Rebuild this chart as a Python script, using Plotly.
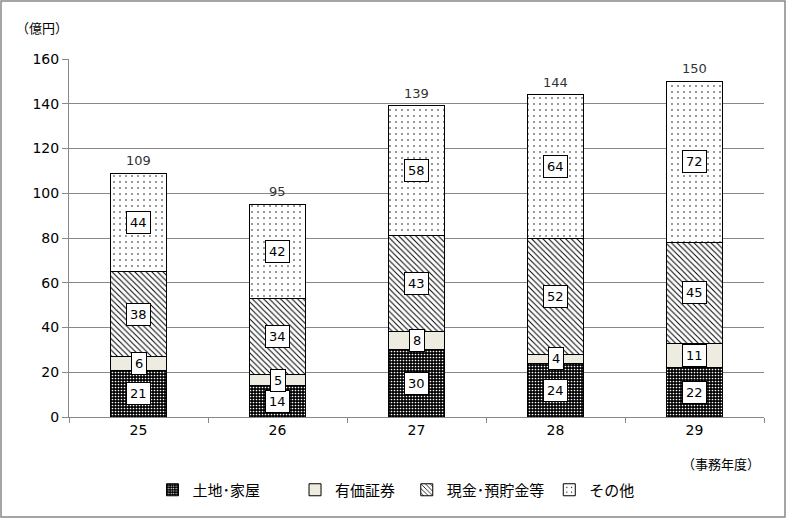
import plotly.graph_objects as go

years = ["25", "26", "27", "28", "29"]
land = [21, 14, 30, 24, 22]
securities = [6, 5, 8, 4, 11]
cash = [38, 34, 43, 52, 45]
other = [44, 42, 58, 64, 72]
totals = [109, 95, 139, 144, 150]
names = ["土地･家屋", "有価証券", "現金･預貯金等", "その他"]
name_pad = ["\u3000\u3000", "\u00a0\u00a0", "", ""]

W, H = 790, 523
L, R, T, B = 69, 26, 59, 106
PW, PH = W - L - R, H - T - B

JP = "Noto Sans CJK JP"
NUM = "DejaVu Sans"

fig = go.Figure()
styles = [
    dict(color="black", pattern=dict(shape=".", bgcolor="black", fgcolor="white", size=3, solidity=0.25, fillmode="replace")),
    dict(color="#EEECE1"),
    dict(color="white", pattern=dict(shape="\\", bgcolor="white", fgcolor="black", size=4, solidity=0.25, fillmode="replace")),
    dict(color="white", pattern=dict(shape=".", bgcolor="white", fgcolor="black", size=6, solidity=0.05, fillmode="replace")),
]
series = [land, securities, cash, other]
for nm, pad, vals, st in zip(names, name_pad, series, styles):
    m = dict(st)
    m["line"] = dict(color="black", width=1)
    fig.add_trace(go.Bar(x=years, y=vals, name=nm + pad, marker=m, width=0.4))

# value boxes (category index positions)
for i in range(len(years)):
    base = 0
    for vals in series:
        v = vals[i]
        fig.add_annotation(x=i, y=base + v / 2, text=str(v), showarrow=False,
                           bgcolor="white", bordercolor="black", borderwidth=1, borderpad=3,
                           font=dict(family=NUM, size=13, color="black"))
        base += v
    fig.add_annotation(x=i, y=totals[i], text=str(totals[i]), showarrow=False, yanchor="bottom",
                       yshift=3, font=dict(family=NUM, size=13, color="#333"))

fig.add_annotation(xref="paper", yref="paper", x=(14 - L) / PW, y=(H - B - 27) / PH,
                   xanchor="left", yanchor="middle", text="（億円）", showarrow=False,
                   font=dict(family=JP, size=13, color="black"))
fig.add_annotation(xref="paper", yref="paper", x=(721 - L) / PW, y=(H - B - 463) / PH,
                   xanchor="center", yanchor="middle", text="（事務年度）", showarrow=False,
                   font=dict(family=JP, size=13, color="black"))

# outer frame
fig.add_shape(type="rect", xref="paper", yref="paper",
              x0=(1 - L) / PW, x1=(785 - L) / PW, y0=(H - B - 517) / PH, y1=(H - B - 1) / PH,
              line=dict(color="#888", width=1.5), fillcolor="rgba(0,0,0,0)", layer="below")

fig.update_layout(
    width=W, height=H, margin=dict(l=L, r=R, t=T, b=B),
    barmode="stack", plot_bgcolor="white", paper_bgcolor="white",
    showlegend=True,
    legend=dict(orientation="h", x=(396 - L) / PW, xanchor="center", y=(H - B - 490) / PH, yanchor="middle",
                font=dict(family=JP, size=15, color="black"), traceorder="normal", itemwidth=30),
    xaxis=dict(type="category", showline=True, linecolor="#888", ticks="outside", tickson="boundaries",
               ticklen=5, tickcolor="#888", tickfont=dict(family=NUM, size=14, color="black"),
               showgrid=False, tickangle=0, range=[-0.5, 4.5]),
    yaxis=dict(range=[0, 160], dtick=20, showline=True, linecolor="#888", ticks="outside", ticklen=6,
               tickcolor="#888", gridcolor="#888", gridwidth=1,
               tickfont=dict(family=NUM, size=14, color="black"), zeroline=False),
)
fig.write_html("out.html")
